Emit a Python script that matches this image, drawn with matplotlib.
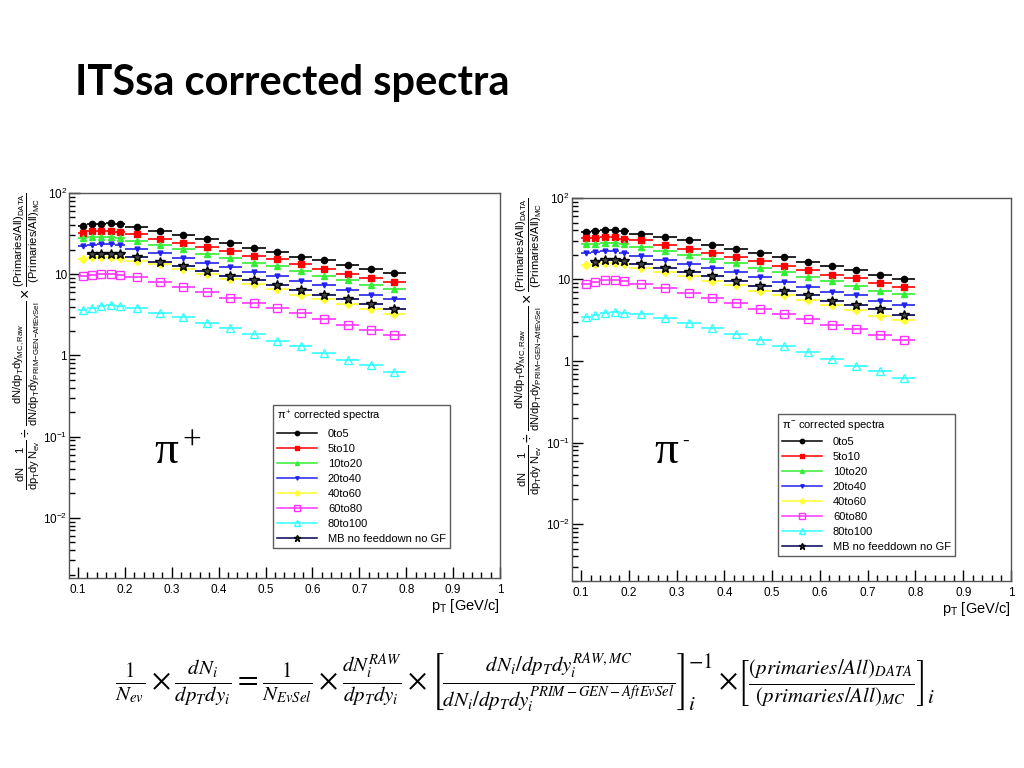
import numpy as np
import matplotlib
matplotlib.use('Agg')
import matplotlib.pyplot as plt
from matplotlib.lines import Line2D
from matplotlib.ticker import FixedLocator, FixedFormatter, MultipleLocator, LogLocator, NullFormatter

#-------------------------------------------------
#                 DATA
#-------------------------------------------------
bin_edges = [0.10, 0.12, 0.14, 0.16, 0.18, 0.20, 0.25, 0.30, 0.35, 0.40,
             0.45, 0.50, 0.55, 0.60, 0.65, 0.70, 0.75, 0.80]

labels = ['0to5', '5to10', '10to20', '20to40', '40to60', '60to80', '80to100',
          'MB no feeddown no GF']

# pi+ corrected spectra
pip_0to5 = [39.2, 41.4, 41.4, 42.3, 41.4, 38.0, 34.0, 30.3, 26.8, 23.9, 21.1, 18.7, 16.5, 14.8, 13.0, 11.6, 10.4]
pip_5to10 = [32.4, 34.0, 34.0, 34.0, 33.3, 31.2, 27.3, 24.3, 21.5, 19.2, 17.0, 15.2, 13.2, 11.6, 10.2, 9.0, 8.0]
pip_10to20 = [27.6, 28.4, 28.9, 28.6, 27.8, 25.8, 23.0, 20.4, 17.8, 15.8, 13.9, 12.5, 10.9, 9.6, 8.4, 7.3, 6.5]
pip_20to40 = [22.2, 22.8, 23.5, 23.5, 22.6, 20.5, 18.0, 15.9, 13.9, 12.3, 10.7, 9.4, 8.3, 7.3, 6.4, 5.5, 4.9]
pip_40to60 = [15.5, 16.1, 16.4, 16.2, 15.9, 14.6, 13.2, 11.5, 10.1, 8.7, 7.5, 6.5, 5.6, 5.0, 4.3, 3.7, 3.2]
pip_60to80 = [9.4, 9.8, 10.1, 10.1, 9.9, 9.2, 8.0, 6.9, 6.0, 5.1, 4.4, 3.8, 3.3, 2.84, 2.39, 2.07, 1.77]
pip_80to100 = [3.62, 3.88, 4.06, 4.18, 4.06, 3.88, 3.37, 3.0, 2.53, 2.17, 1.83, 1.52, 1.29, 1.07, 0.885, 0.753, 0.617]
pip_MB = [17.5, 17.8, 17.8, 17.7, 16.4, 14.2, 12.6, 11.0, 9.6, 8.4, 7.3, 6.4, 5.6, 4.9, 4.3, 3.7]   # starts at 2nd bin

# pi- corrected spectra
pim_0to5 = [38.0, 39.2, 40.3, 40.3, 39.2, 36.4, 33.1, 30.1, 26.7, 23.9, 21.1, 18.7, 16.6, 14.8, 13.2, 11.4, 10.1]
pim_5to10 = [32.1, 32.1, 33.1, 33.1, 31.6, 30.2, 26.7, 23.6, 20.9, 19.1, 17.1, 14.7, 13.1, 11.4, 10.4, 9.0, 8.1]
pim_10to20 = [26.9, 27.2, 27.7, 27.7, 27.2, 25.0, 22.6, 20.0, 17.7, 15.8, 14.0, 12.4, 10.8, 9.5, 8.3, 7.3, 6.6]
pim_20to40 = [20.9, 21.5, 22.1, 22.1, 21.3, 19.6, 17.5, 15.5, 13.8, 12.3, 10.7, 9.3, 8.2, 7.1, 6.4, 5.5, 4.9]
pim_40to60 = [15.1, 15.7, 15.9, 15.9, 15.5, 14.0, 12.5, 11.0, 9.7, 8.5, 7.3, 6.4, 5.6, 4.8, 4.2, 3.6, 3.2]
pim_60to80 = [8.9, 9.4, 9.8, 9.8, 9.5, 8.8, 7.8, 6.9, 6.0, 5.1, 4.4, 3.8, 3.25, 2.75, 2.45, 2.07, 1.80]
pim_80to100 = [3.47, 3.64, 3.88, 3.96, 3.88, 3.74, 3.34, 2.93, 2.52, 2.15, 1.82, 1.52, 1.30, 1.06, 0.877, 0.747, 0.614]
pim_MB = [16.6, 17.2, 17.2, 16.7, 15.5, 13.7, 12.2, 10.9, 9.5, 8.4, 7.3, 6.4, 5.5, 4.9, 4.3, 3.7]

#-------------------------------------------------
#                 STYLE
#-------------------------------------------------
plt.rcParams['font.family'] = ['Liberation Sans', 'DejaVu Sans']
plt.rcParams['mathtext.fontset'] = 'custom'
plt.rcParams['mathtext.rm'] = 'Liberation Sans'
plt.rcParams['mathtext.it'] = 'Liberation Sans'
plt.rcParams['mathtext.bf'] = 'Liberation Sans:bold'

colors = ['black', '#ff0000', '#33ee33', '#2222ee', '#ffff33', '#ff33ff', '#33ffff', '#000055']
markers = ['o', 's', '^', 'v', 'D', 's', '^', '*']
msizes = [4.5, 5, 4, 3.5, 4, 6, 6, 7]
mfaces = ['black', '#ff0000', '#33ee33', '#2222ee', '#ffff33', 'none', 'none', '#444444']

edges = np.array(bin_edges)
centres = (edges[:-1] + edges[1:]) / 2
half_w = (edges[1:] - edges[:-1]) / 2

ylab = (r'$\frac{dN}{dp_{T}dy}\frac{1}{N_{ev}}\div'
        r'\frac{dN/dp_{T}dy_{MC,Raw}}{dN/dp_{T}dy_{PRIM\mathrm{-}GEN\mathrm{-}AftEvSel}}\times'
        r'\frac{(Primaries/All)_{DATA}}{(Primaries/All)_{MC}}$')

fig = plt.figure(figsize=(10.24, 7.68), dpi=100)
fig.patch.set_facecolor('white')

fig.text(0.073, 0.892, 'ITSsa corrected spectra', fontsize=30, fontweight='bold',
         family=['Lato', 'DejaVu Sans'], va='center', ha='left')


def spectra_panel(rect, series, leg_title, ymin, leg_anchor):
    ax = fig.add_axes(rect)
    handles = []
    for k, vals in enumerate(series):
        if k == 7:
            x, xe = centres[1:], half_w[1:]
        else:
            x, xe = centres, half_w
        mec = colors[k] if k != 7 else 'black'
        ax.errorbar(x, vals, xerr=xe, fmt=markers[k], color=colors[k],
                    mfc=mfaces[k], mec=mec, ms=msizes[k], elinewidth=1.2, capsize=0)
        handles.append(Line2D([0], [0], color=colors[k], lw=1.1, marker=markers[k],
                              ms=msizes[k] * 0.7, mfc=mfaces[k], mec=mec))
    ax.set_yscale('log')
    ax.set_xlim(0.081, 1.0)
    ax.set_ylim(ymin, 100)

    ax.xaxis.set_major_locator(FixedLocator([0.1, 0.2, 0.3, 0.4, 0.5, 0.6, 0.7, 0.8, 0.9, 1.0]))
    ax.xaxis.set_major_formatter(FixedFormatter(['0.1', '0.2', '0.3', '0.4', '0.5', '0.6', '0.7', '0.8', '0.9', '1']))
    ax.xaxis.set_minor_locator(MultipleLocator(0.02))
    ax.yaxis.set_major_locator(FixedLocator([0.01, 0.1, 1, 10, 100]))
    ax.yaxis.set_major_formatter(FixedFormatter([r'$10^{-2}$', r'$10^{-1}$', '1', '10', r'$10^{2}$']))
    ax.yaxis.set_minor_locator(LogLocator(base=10, subs=np.arange(2, 10)))
    ax.yaxis.set_minor_formatter(NullFormatter())
    ax.tick_params(which='both', direction='in', top=False, right=False, labelsize=8.5)
    ax.tick_params(axis='x', pad=4)
    ax.tick_params(axis='y', pad=1.5)
    ax.tick_params(which='major', length=8, width=1)
    ax.tick_params(which='minor', length=4, width=1)
    for sp in ax.spines.values():
        sp.set_color('#555555')
        sp.set_linewidth(1)

    ax.set_xlabel(r'p$_{T}$ [GeV/c]', loc='right', fontsize=10.5, labelpad=1)
    ax.set_ylabel(ylab, loc='top', fontsize=11.5)
    ax.yaxis.set_label_coords(-0.063, 1.0)

    leg = ax.legend(handles, labels, loc='upper left', bbox_to_anchor=leg_anchor, title=leg_title,
                    fontsize=8, title_fontsize=8, frameon=True, fancybox=False,
                    edgecolor='#333333', labelspacing=0.45, handlelength=3.6,
                    borderpad=0.35, handletextpad=1.0, borderaxespad=0)
    leg._legend_box.align = 'left'
    leg.get_frame().set_linewidth(1)
    return ax


ax1 = spectra_panel([0.0674, 0.2474, 0.4209, 0.5013],
                    [pip_0to5, pip_5to10, pip_10to20, pip_20to40, pip_40to60, pip_60to80, pip_80to100, pip_MB],
                    r'$\pi^{+}$ corrected spectra', 0.00182, (0.473, 0.449))
ax2 = spectra_panel([0.5586, 0.2435, 0.4287, 0.4987],
                    [pim_0to5, pim_5to10, pim_10to20, pim_20to40, pim_40to60, pim_60to80, pim_80to100, pim_MB],
                    r'$\pi^{-}$ corrected spectra', 0.0020, (0.469, 0.436))

# big pion labels (upright serif pi)
fig.text(166 / 1024, 1 - 452 / 768, '\u03c0', fontsize=34, family='Liberation Serif', ha='center', va='center')
fig.text(192 / 1024, 1 - 442 / 768, '+', fontsize=24, family='Liberation Serif', ha='center', va='center')
fig.text(666 / 1024, 1 - 452 / 768, '\u03c0', fontsize=34, family='Liberation Serif', ha='center', va='center')
fig.text(686 / 1024, 1 - 441 / 768, '-', fontsize=14, family='Liberation Serif', ha='center', va='center')

# correction formula, built in pieces so the bracket scripts sit at the bracket corners
fs = 21.5
part_a = (r'$\frac{1}{N_{ev}}\times\frac{dN_i}{dp_T dy_i}=\frac{1}{N_{EvSel}}\times'
          r'\frac{dN_i^{RAW}}{dp_T dy_i}\times'
          r'\left[\frac{dN_i/dp_T dy_i^{RAW,MC}}{dN_i/dp_T dy_i^{PRIM-GEN-AftEvSel}}\right]$')
part_b = r'$\times\left[\frac{(primaries/All)_{DATA}}{(primaries/All)_{MC}}\right]$'
renderer = fig.canvas.get_renderer()
base_px = 768 - 690
ta = fig.text(115, base_px, part_a, fontsize=fs, math_fontfamily='stix',
              ha='left', va='baseline', transform=None)
bb = ta.get_window_extent(renderer)
t_sup = fig.text(bb.x1 + 2, bb.y1 - 2, r'$-1$', fontsize=fs * 0.7, math_fontfamily='stix',
                 ha='left', va='top', transform=None)
t_sub = fig.text(bb.x1 + 2, bb.y0 + 2, r'$i$', fontsize=fs * 0.7, math_fontfamily='stix',
                 ha='left', va='bottom', transform=None)
sb = t_sup.get_window_extent(renderer)
tb = fig.text(sb.x1 + 6, base_px, part_b, fontsize=fs, math_fontfamily='stix',
              ha='left', va='baseline', transform=None)
bb2 = tb.get_window_extent(renderer)
fig.text(bb2.x1 + 2, bb2.y0 + 2, r'$i$', fontsize=fs * 0.7, math_fontfamily='stix',
         ha='left', va='bottom', transform=None)

plt.savefig('out.png', dpi=100, facecolor='white')
